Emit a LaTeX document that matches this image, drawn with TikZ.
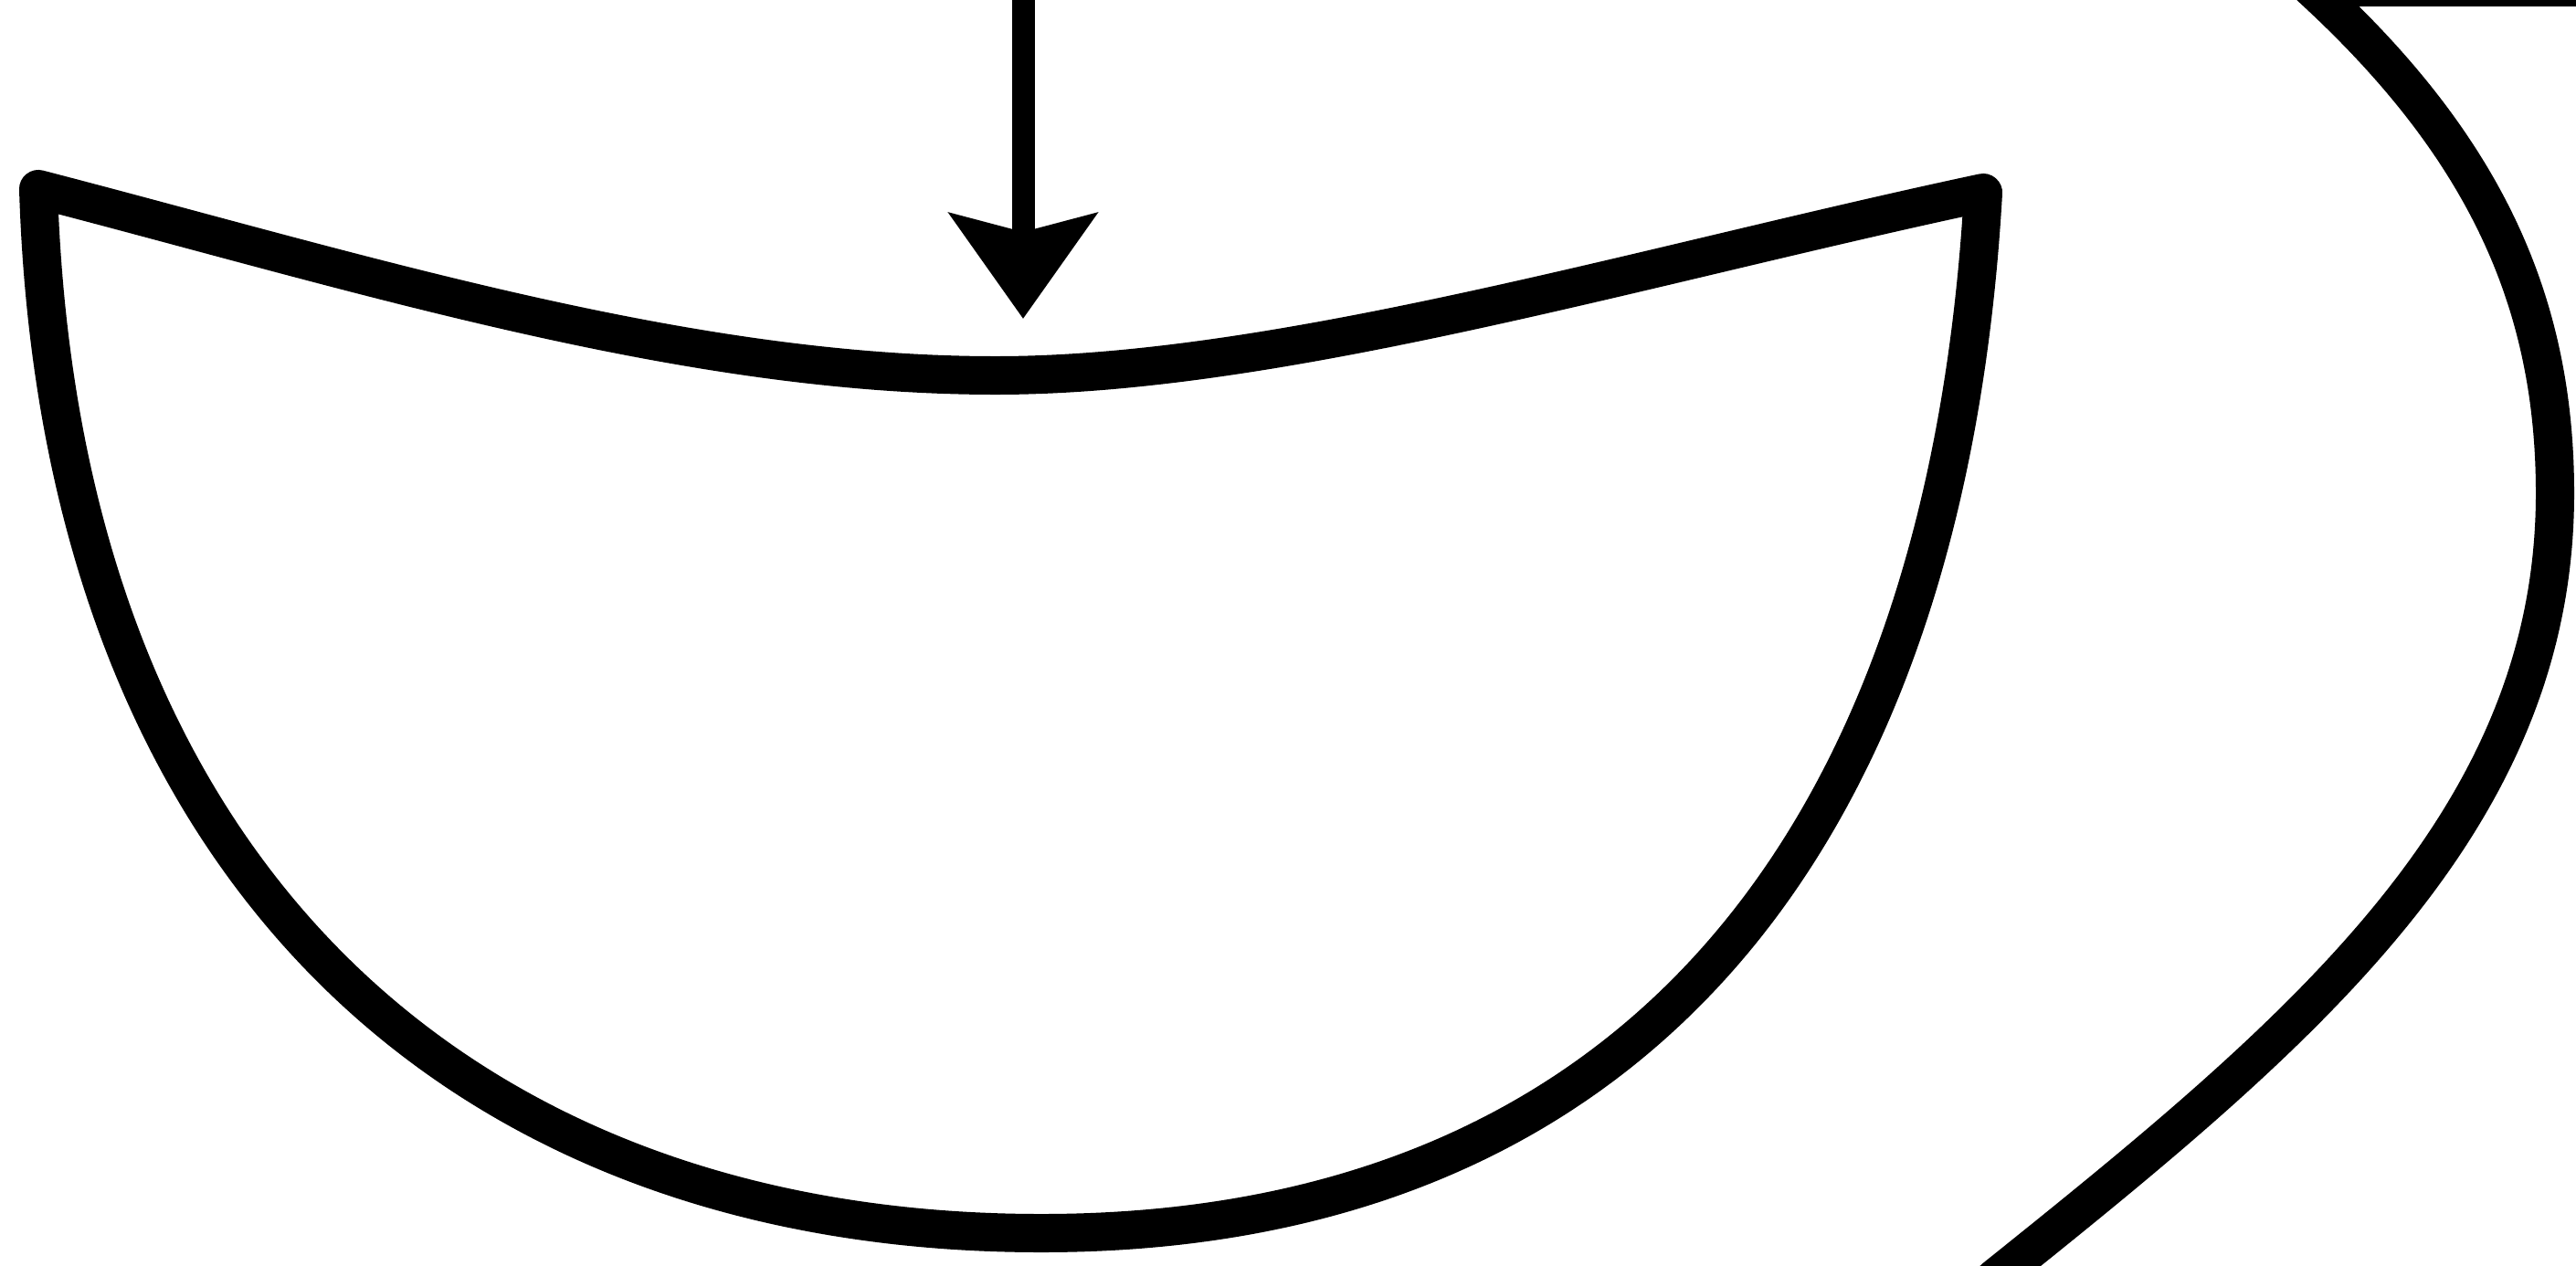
\documentclass[tikz,border=0pt]{standalone}
\usepackage{amsmath,amssymb}
\usetikzlibrary{arrows.meta}
\tikzset{inkline/.style={line width=4.2mm, black, line join=round, line cap=round}}

\begin{document}
\begin{tikzpicture}[yscale=-1]
\useasboundingbox (0,0) rectangle (28.20,13.85);
\clip (0,0) rectangle (28.20,13.85);
% bowl
\coordinate (bowlL) at (0.42,2.07);
\coordinate (bowlB) at (11.40,13.50);
\coordinate (bowlR) at (21.71,2.11);
\coordinate (bowlM) at (10.90,4.11);
\draw[inkline] (bowlL) .. controls (0.65,9.50) and (5.00,13.50) .. (bowlB)
  .. controls (17.80,13.50) and (21.30,9.30) .. (bowlR)
  .. controls (18.00,2.90) and (14.00,4.11) .. (bowlM)
  .. controls (7.50,4.11) and (4.00,3.00) .. cycle;
% arrow from above
\coordinate (drop) at (11.20,-0.60);
\coordinate (droptip) at (11.20,3.49);
\draw[line width=2.5mm, -{Stealth[length=11.5mm, width=16mm, inset=2mm]}] (drop) -- (droptip);
% curve on the right
\coordinate (railend) at (29.00,-0.14);
\coordinate (bend) at (25.30,-0.14);
\coordinate (swing) at (27.97,5.40);
\coordinate (exit) at (21.83,14.00);
\draw[inkline] (railend) -- (bend) .. controls (27.20,1.60) and (27.97,3.30) .. (swing)
  .. controls (27.97,9.00) and (25.20,11.30) .. (exit);
\end{tikzpicture}
\end{document}
